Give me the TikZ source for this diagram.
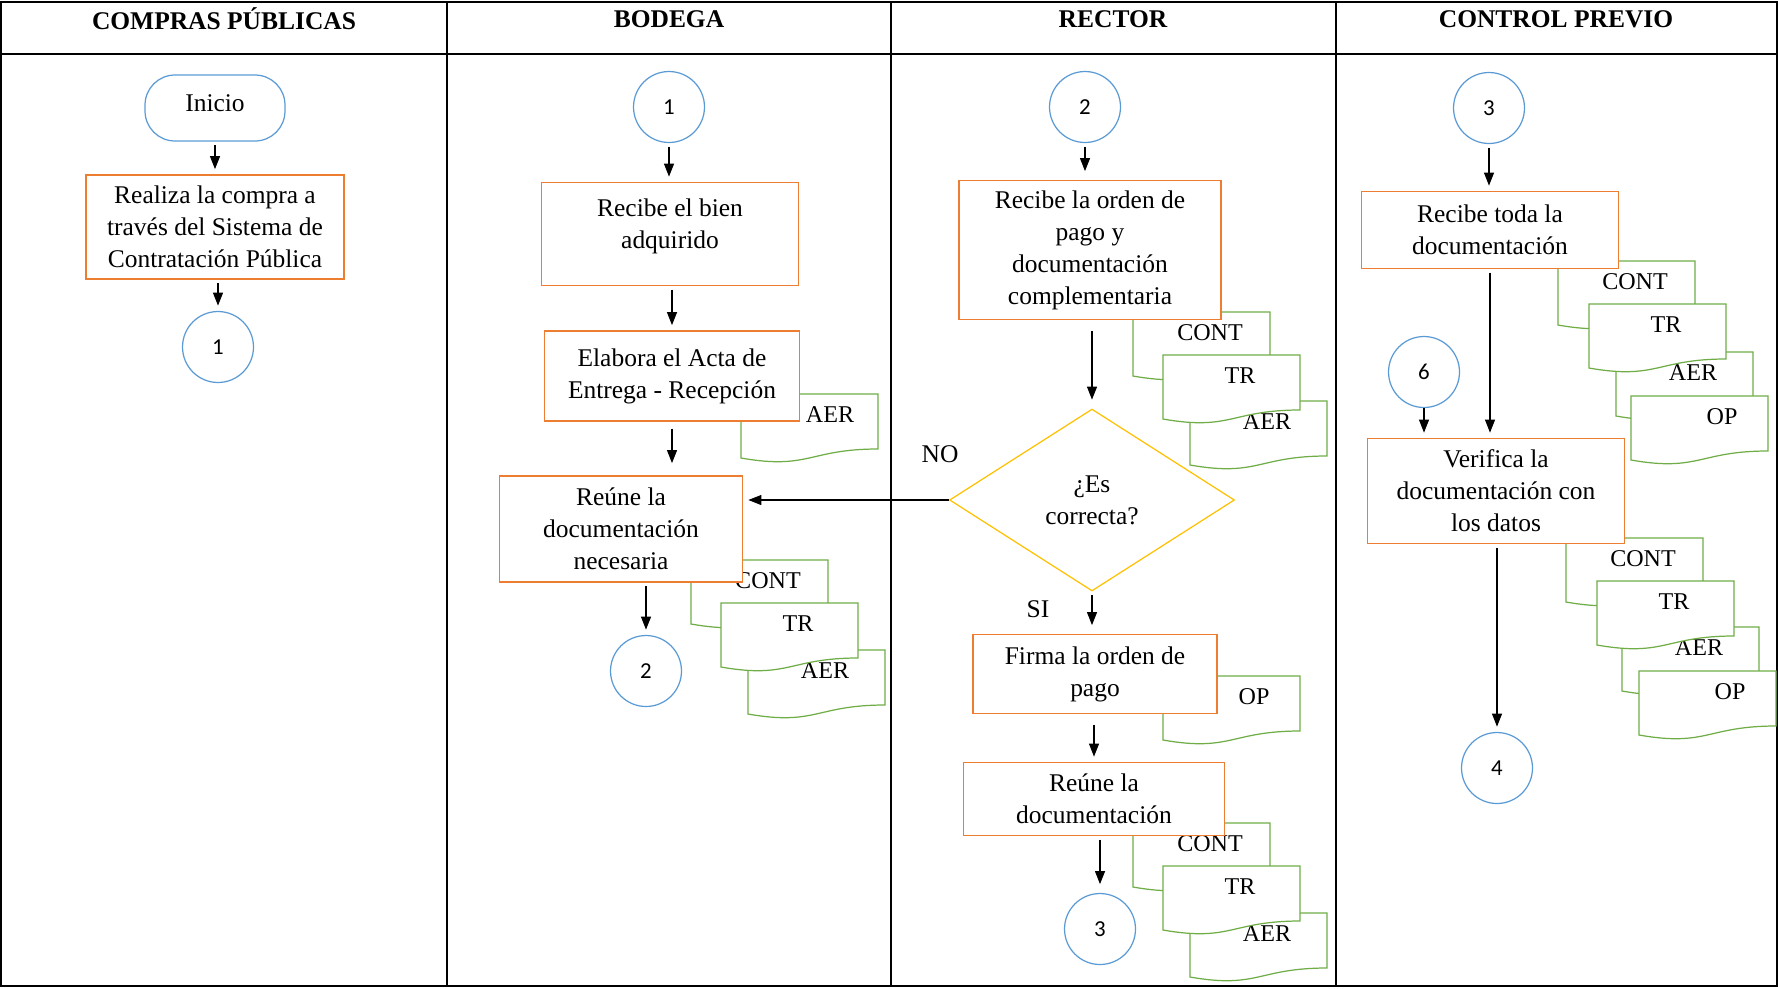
\documentclass[tikz,border=0pt]{standalone}
\usepackage{fontspec}
\setmainfont{Liberation Serif}
\newfontfamily\numfont{Carlito}
\usetikzlibrary{arrows.meta,shapes.geometric}

\definecolor{procorange}{RGB}{237,125,49}
\definecolor{conblue}{RGB}{91,155,213}
\definecolor{docgreen}{RGB}{112,173,71}
\definecolor{decyellow}{RGB}{255,192,0}

\tikzset{
  pics/docu/.style={code={
    \draw[draw=docgreen,fill=white,line width=0.7pt] (0,0) -- (137,0) -- (137,55)
      .. controls (68,55) and (68,76) .. (0,64) -- cycle;
    \node[font=\fontsize{13.7}{16}\selectfont,inner sep=0pt] (-t) at (#1,21) {\tikzpictext};
  }}
}

\begin{document}
\begin{tikzpicture}[x=0.02cm,y=-0.02cm,
  font=\fontsize{14.5}{18.2}\selectfont,
  every node/.append style={align=center},
  proc/.style={draw=procorange,fill=white,line width=0.7pt,inner sep=0pt},
  conn/.style={circle,draw=conblue,fill=white,line width=0.7pt,minimum size=1.42cm,
    inner sep=0pt,font=\numfont\fontsize{13}{15}\selectfont},
  arr/.style={-{Triangle[length=0.26cm,width=0.2cm]},line width=0.6pt,
    shorten <=2pt,shorten >=3pt}]
  \tikzstyle{lane} = [line width=0.9pt]
  \tikzstyle{head} = [font=\bfseries\fontsize{14.5}{17}\selectfont]
  \useasboundingbox (0,0) rectangle (1778,988);

  % lanes
  \draw[lane] (1,2) rectangle (1777,986);
  \draw[lane] (1,54) -- (1777,54);
  \foreach \x in {447,891,1336} \draw[lane] (\x,2) -- (\x,986);
  \node (h1) [head] at (224,19) {COMPRAS PÚBLICAS};
  \node (h2) [head] at (669,19) {BODEGA};
  \node (h3) [head] at (1113,19) {RECTOR};
  \node (h4) [head] at (1556,19) {CONTROL PREVIO};

  % documents
  \pic[pic text=AER] (g2a) at (741,394) {docu=89};
  \pic[pic text=CONT] (g2b) at (691,560) {docu=77};
  \pic[pic text=AER] (g2c) at (748,650) {docu=77};
  \pic[pic text=TR] (g2d) at (721,603) {docu=77};
  \pic[pic text=CONT] (g3a) at (1133,312) {docu=77};
  \pic[pic text=AER] (g3b) at (1190,401) {docu=77};
  \pic[pic text=TR] (g3c) at (1163,355) {docu=77};
  \pic[pic text=OP] (g3d) at (1163,676) {docu=91};
  \pic[pic text=CONT] (g3e) at (1133,823) {docu=77};
  \pic[pic text=AER] (g3f) at (1190,913) {docu=77};
  \pic[pic text=TR] (g3g) at (1163,866) {docu=77};
  \pic[pic text=CONT] (g4a) at (1558,261) {docu=77};
  \pic[pic text=AER] (g4b) at (1616,352) {docu=77};
  \pic[pic text=TR] (g4c) at (1589,304) {docu=77};
  \pic[pic text=OP] (g4d) at (1631,396) {docu=91};
  \pic[pic text=CONT] (g4e) at (1566,538) {docu=77};
  \pic[pic text=AER] (g4f) at (1622,627) {docu=77};
  \pic[pic text=TR] (g4g) at (1597,581) {docu=77};
  \pic[pic text=OP] (g4h) at (1639,671) {docu=91};

  % compras publicas
  \node (ini) [draw=conblue,line width=0.7pt,rounded corners=0.6cm,minimum width=2.8cm,
    minimum height=1.32cm,text depth=0.2cm] at (215,108) {Inicio};
  \node (a1) [proc,minimum width=5.16cm,minimum height=2.08cm] at (215,227)
    {Realiza la compra a\\través del Sistema de\\Contratación Pública};
  \node (k1) [conn] at (218,347) {1};

  % bodega
  \node (k2_1) [conn] at (669,107) {1};
  \node (b2_1) [proc,minimum width=5.14cm,minimum height=2.06cm,text depth=0.43cm] at (670,234)
    {Recibe el bien\\adquirido};
  \node (b2_2) [proc,minimum width=5.1cm,minimum height=1.8cm] at (672,376)
    {Elabora el Acta de\\Entrega - Recepción};
  \node (b2_3) [proc,minimum width=4.86cm,minimum height=2.12cm] at (621,529)
    {Reúne la\\documentación\\necesaria};
  \node (k2_2) [conn] at (646,671) {2};

  % rector
  \node (k3_1) [conn] at (1085,107) {2};
  \node (b3_1) [proc,minimum width=5.24cm,minimum height=2.78cm] at (1090,250)
    {Recibe la orden de\\pago y\\documentación\\complementaria};
  \node (d3) [diamond,draw=decyellow,line width=0.7pt,inner sep=0pt,minimum width=5.7cm,
    minimum height=3.64cm] at (1092,500) {¿Es\\correcta?};
  \node (b3_2) [proc,minimum width=4.88cm,minimum height=1.58cm] at (1095,674)
    {Firma la orden de\\pago};
  \node (b3_3) [proc,minimum width=5.22cm,minimum height=1.46cm] at (1094,799)
    {Reúne la\\documentación};
  \node (k3_2) [conn] at (1100,929) {3};
  \node (no) at (940,454) {NO};
  \node (si) at (1038,609) {SI};

  % control previo
  \node (k4_1) [conn] at (1489,108) {3};
  \node (b4_1) [proc,minimum width=5.14cm,minimum height=1.54cm] at (1490,230)
    {Recibe toda la\\documentación};
  \node (k4_2) [conn] at (1424,372) {6};
  \node (b4_2) [proc,minimum width=5.14cm,minimum height=2.1cm] at (1496,491)
    {Verifica la\\documentación con\\los datos};
  \node (k4_3) [conn] at (1497,768) {4};

  % flow
  \draw[arr] (ini) -- (a1);
  \draw[arr] (a1.south -| k1) -- (k1);
  \draw[arr] (k2_1) -- (k2_1 |- b2_1.north);
  \draw[arr] (b2_1.south -| b2_2) -- (b2_2);
  \draw[arr,shorten <=4pt,shorten >=7pt] (b2_2) -- (b2_2 |- b2_3.north);
  \draw[arr] (b2_3.south -| k2_2) -- (k2_2);
  \draw[arr,shorten >=5pt] (k3_1) -- (k3_1 |- b3_1.north);
  \draw[arr,shorten <=6pt,shorten >=5pt] (b3_1.south -| d3) -- (d3);
  \draw[arr,shorten <=0pt] (d3.west) -- (d3.west -| b2_3.east);
  \draw[arr,shorten >=5pt] (d3) -- (d3 |- b3_2.north);
  \draw[arr,shorten <=6pt] (b3_2.south -| b3_3) -- (b3_3);
  \draw[arr,shorten >=5pt] (b3_3.south -| k3_2) -- (k3_2);
  \draw[arr] (k4_1) -- (k4_1 |- b4_1.north);
  \draw[arr] (b4_1) -- (b4_1 |- b4_2.north);
  \draw[arr,shorten <=0pt] (k4_2) -- (k4_2 |- b4_2.north);
  \draw[arr] (b4_2.south -| k4_3) -- (k4_3);
\end{tikzpicture}
\end{document}
